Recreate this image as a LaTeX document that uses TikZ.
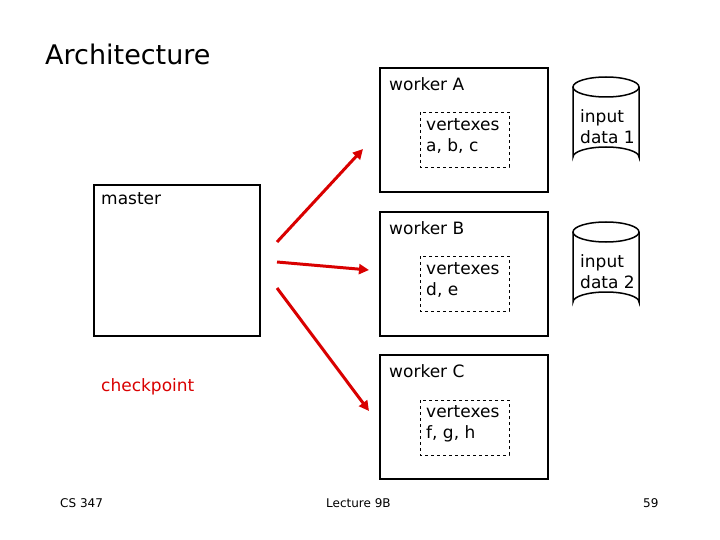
\documentclass[tikz,border=0pt]{standalone}
\usepackage{fontspec}
\setmainfont{DejaVu Sans}
\usetikzlibrary{arrows.meta}
\begin{document}
\begin{tikzpicture}[x=1pt,y=-1pt,
  box/.style={draw=black,line width=2pt},
  vbox/.style={draw=black,dashed,line width=0.6pt},
  lbl/.style={anchor=north west,inner sep=0pt,font=\fontsize{17}{21.5}\selectfont,align=left},
  foot/.style={anchor=north west,inner sep=0pt,font=\fontsize{12}{14}\selectfont},
  arr/.style={draw=red!85!black,line width=3pt,-{Triangle[length=10pt,width=10pt]}}]
\useasboundingbox (0,0) rectangle (720,540);
\node[anchor=north west,inner sep=0pt,font=\fontsize{27}{32}\selectfont] (title) at (45,44) {Architecture};
% workers
\draw[box] (380,68) rectangle (548,192);
\node[lbl] (wa) at (389,77) {worker A};
\draw[vbox] (420,112) rectangle (509,167);
\node[lbl] (va) at (426,118) {vertexes\\a, b, c};
\draw[box] (380,212) rectangle (548,336);
\node[lbl] (wb) at (389,221) {worker B};
\draw[vbox] (420,256) rectangle (509,311);
\node[lbl] (vb) at (426,262) {vertexes\\d, e};
\draw[box] (380,355) rectangle (548,479);
\node[lbl] (wc) at (389,364) {worker C};
\draw[vbox] (420,400) rectangle (509,455);
\node[lbl] (vc) at (426,405) {vertexes\\f, g, h};
% master
\draw[box] (94,185) rectangle (260,336);
\node[lbl] (ms) at (101,192) {master};
\node[lbl,text=red!85!black] (cp) at (101,378) {checkpoint};
% cylinders
\foreach \t/\lab in {77/1,222/2}{
  \draw[line width=1.5pt,fill=white] (573,\t+10) -- (573,\t+80) arc[start angle=180,end angle=360,x radius=33,y radius=10] -- (639,\t+10);
  \draw[line width=1.5pt] (606,\t+10) ellipse[x radius=33,y radius=10];
  \node[lbl] at (580,\t+32) {input\\data \lab};
}
% arrows
\coordinate (s1) at (277,242); \coordinate (e1) at (363,149);
\coordinate (s2) at (277,262); \coordinate (e2) at (369,270);
\coordinate (s3) at (277,288); \coordinate (e3) at (369,411);
\draw[arr] (s1) -- (e1);
\draw[arr] (s2) -- (e2);
\draw[arr] (s3) -- (e3);
% footer
\node[foot] (f1) at (60,498) {CS 347};
\node[foot] (f2) at (326,498) {Lecture 9B};
\node[foot] (f3) at (643,498) {59};
\end{tikzpicture}
\end{document}
